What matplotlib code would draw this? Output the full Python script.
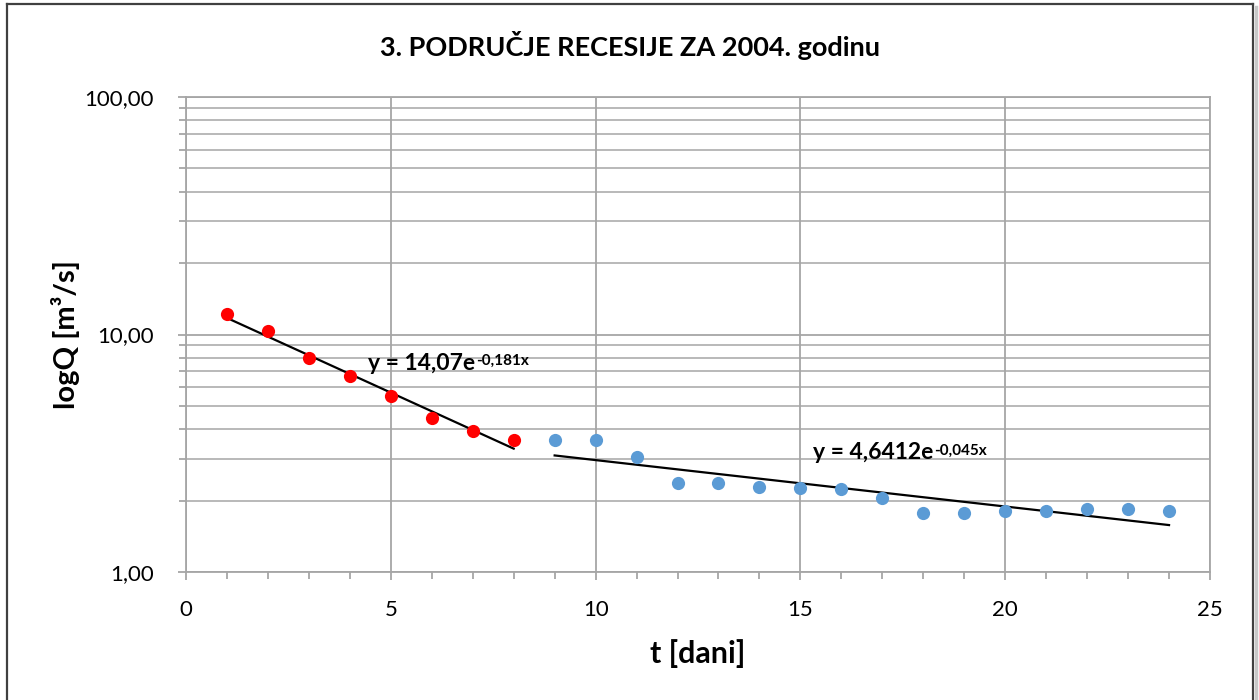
import numpy as np
import matplotlib
matplotlib.use("Agg")
import matplotlib.pyplot as plt
from matplotlib.ticker import FixedLocator, FuncFormatter, LogLocator, NullFormatter
from matplotlib.lines import Line2D

plt.rcParams['font.family'] = ['Lato', 'DejaVu Sans']

# ---- data ----
t_red = [1, 2, 3, 4, 5, 6, 7, 8]
q_red = [12.25, 10.3, 8.0, 6.66, 5.53, 4.47, 3.94, 3.61]
t_blue = [9, 10, 11, 12, 13, 14, 15, 16, 17, 18, 19, 20, 21, 22, 23, 24]
q_blue = [3.58, 3.58, 3.06, 2.36, 2.38, 2.29, 2.26, 2.24, 2.04, 1.78, 1.78, 1.81, 1.81, 1.84, 1.84, 1.81]
fit1_a, fit1_b = 14.07, -0.181
fit2_a, fit2_b = 4.6412, -0.045
fit1_label = ("y = 14,07e", "-0,181x")
fit2_label = ("y = 4,6412e", "-0,045x")
title = "3. PODRUČJE RECESIJE ZA 2004. godinu"
xlabel = "t [dani]"
ylabel = "logQ [m³/s]"

fig = plt.figure(figsize=(12.59, 7.0), dpi=100)
ax = fig.add_axes([186/1259, 1-572/700, (1210-186)/1259, (572-97)/700])

ax.set_yscale('log')
ax.set_xlim(0, 25)
ax.set_ylim(1, 100)

gc = '#a6a6a6'
ax.xaxis.set_major_locator(FixedLocator([0, 5, 10, 15, 20, 25]))
ax.xaxis.set_minor_locator(FixedLocator(list(range(0, 26))))
ax.yaxis.set_major_locator(LogLocator(base=10, numticks=10))
ax.yaxis.set_minor_locator(LogLocator(base=10, subs=np.arange(2, 10), numticks=20))
ax.yaxis.set_major_formatter(FuncFormatter(lambda v, p: f"{v:.2f}".replace('.', ',')))
ax.yaxis.set_minor_formatter(NullFormatter())

ax.grid(True, which='major', axis='both', color=gc, lw=1.3)
ax.grid(True, which='minor', axis='y', color=gc, lw=1.1)
ax.set_axisbelow(True)
for s in ax.spines.values():
    s.set_color(gc)
    s.set_linewidth(1.3)

ax.tick_params(axis='both', which='both', color=gc, direction='out', width=1.3)
ax.tick_params(axis='both', which='major', length=6, labelsize=16)
ax.tick_params(axis='both', which='minor', length=5)
ax.tick_params(axis='y', which='major', pad=17)
ax.tick_params(axis='x', which='major', pad=14)

# trend lines
x1 = np.linspace(t_red[0], t_red[-1], 50)
x2 = np.linspace(t_blue[0], t_blue[-1], 50)
ax.plot(x1, fit1_a*np.exp(fit1_b*x1), color='black', lw=1.6, zorder=3)
ax.plot(x2, fit2_a*np.exp(fit2_b*x2), color='black', lw=1.6, zorder=3)

ax.plot(t_red, q_red, 'o', color='#ff0000', ms=9.5, mec='none', zorder=4)
ax.plot(t_blue, q_blue, 'o', color='#5b9bd5', ms=9.5, mec='none', zorder=4)

fig.canvas.draw()
renderer = fig.canvas.get_renderer()

def eq(x, y, parts):
    base = ax.text(x, y, parts[0], fontsize=16.5, fontweight='bold', ha='left', va='baseline', zorder=5)
    bb = base.get_window_extent(renderer)
    inv = ax.transData.inverted()
    xr, yt = inv.transform((bb.x1 + 1, bb.y1 - 1))
    ax.text(xr, yt, parts[1], fontsize=11, fontweight='bold', ha='left', va='top', zorder=5)

eq(4.44, 7.12, fit1_label)
eq(15.3, 2.98, fit2_label)

fig.text(0.5, 1-45/700, title, fontsize=19.5, fontweight='bold', ha='center', va='center')
ax.set_xlabel(xlabel, fontsize=22, fontweight='bold', labelpad=14)
ax.set_ylabel(ylabel, fontsize=21, fontweight='bold')
ax.yaxis.set_label_coords((80-186)/1024, 0.5)

# figure frame
fc = '#404040'
fig.add_artist(Line2D([7/1259, 7/1259], [0, 1-4/700], transform=fig.transFigure, color=fc, lw=1.6))
fig.add_artist(Line2D([7/1259, 1253/1259], [1-4/700, 1-4/700], transform=fig.transFigure, color=fc, lw=1.6))
fig.add_artist(Line2D([1253/1259, 1253/1259], [0, 1-4/700], transform=fig.transFigure, color=fc, lw=1.6))
fig.add_artist(Line2D([1256/1259, 1256/1259], [0, 1-7/700], transform=fig.transFigure, color='#c8c8c8', lw=2.5))

fig.savefig('out.png', dpi=100)
